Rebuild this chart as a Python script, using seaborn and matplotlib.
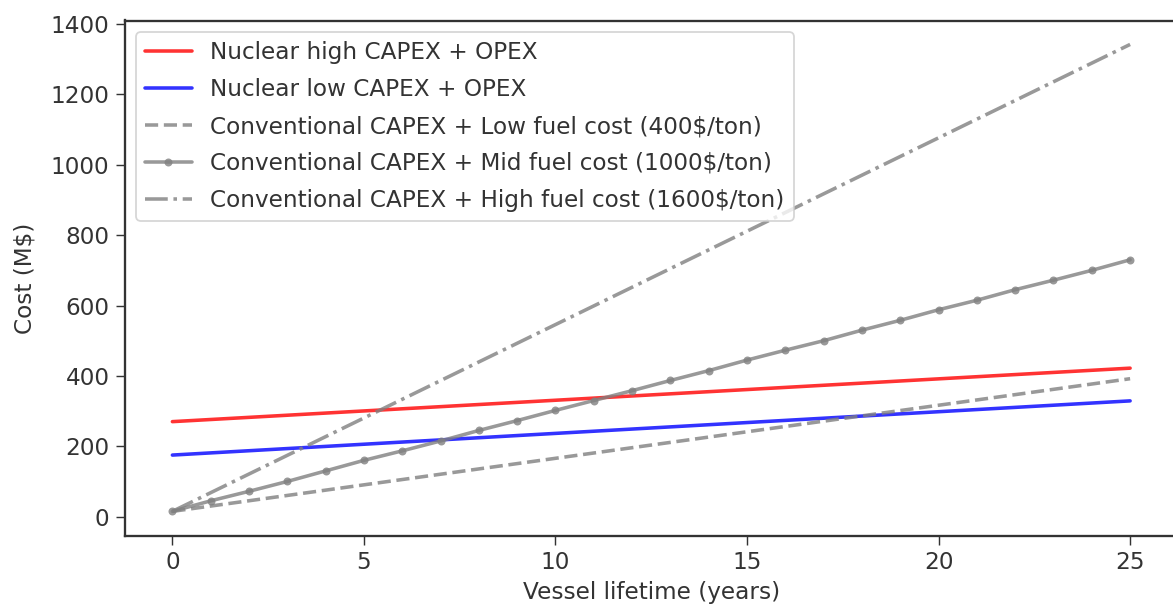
import matplotlib
matplotlib.use("Agg")
import matplotlib.pyplot as plt
import seaborn as sns
import numpy as np

# Lifetime cost comparison: nuclear vs conventional propulsion
years_ends = [0, 25]
nuclear_high = [270, 422]
nuclear_low = [175, 329]
conv_low_fuel = [15, 392]
conv_high_fuel = [15, 1342]

years_all = list(range(26))
conv_mid_fuel = [15, 45, 72, 100, 130, 160, 187, 215, 245, 273, 302, 330, 358,
                 387, 415, 445, 473, 500, 530, 558, 588, 615, 645, 672, 700, 730]

labels = [
    "Nuclear high CAPEX + OPEX",
    "Nuclear low CAPEX + OPEX",
    "Conventional CAPEX + Low fuel cost (400$/ton)",
    "Conventional CAPEX + Mid fuel cost (1000$/ton)",
    "Conventional CAPEX + High fuel cost (1600$/ton)",
]

sns.set_style("ticks")
plt.rcParams["font.family"] = ["DejaVu Sans"]
plt.rcParams["font.size"] = 13
plt.rcParams["axes.edgecolor"] = "#333333"

dpi = 128
fig = plt.figure(figsize=(1173 / dpi, 609 / dpi), dpi=dpi)
ax = fig.add_axes([124.5 / 1173, 73 / 609, (1178 - 124.5) / 1173, (536 - 20.5) / 609])

lw = 2.0
sns.lineplot(x=years_ends, y=nuclear_high, ax=ax, color="red", alpha=0.8, lw=lw, label=labels[0])
sns.lineplot(x=years_ends, y=nuclear_low, ax=ax, color="blue", alpha=0.8, lw=lw, label=labels[1])
sns.lineplot(x=years_ends, y=conv_low_fuel, ax=ax, color="gray", alpha=0.8, lw=lw,
             linestyle="--", label=labels[2])
sns.lineplot(x=years_all, y=conv_mid_fuel, ax=ax, color="gray", alpha=0.8, lw=lw,
             marker="o", markersize=4.5, markeredgewidth=0, label=labels[3])
sns.lineplot(x=years_ends, y=conv_high_fuel, ax=ax, color="gray", alpha=0.8, lw=lw,
             linestyle="-.", label=labels[4])

ax.set_xlim(-1.25, 26.25)
ax.set_ylim(-55, 1410)
ax.set_xticks([0, 5, 10, 15, 20, 25])
ax.set_yticks([0, 200, 400, 600, 800, 1000, 1200, 1400])
ax.set_xlabel("Vessel lifetime (years)", color="#333333", fontsize=13)
ax.set_ylabel("Cost (M$)", color="#333333", fontsize=13, labelpad=8)
ax.tick_params(colors="#333333", labelcolor="#333333", labelsize=13, length=5)
for s in ax.spines.values():
    s.set_linewidth(1.3)

ax.legend(loc="upper left", frameon=True, fontsize=13, labelcolor="#333333",
          borderaxespad=0.5, labelspacing=0.6, handlelength=2.0)

fig.savefig("out.png", dpi=dpi)
